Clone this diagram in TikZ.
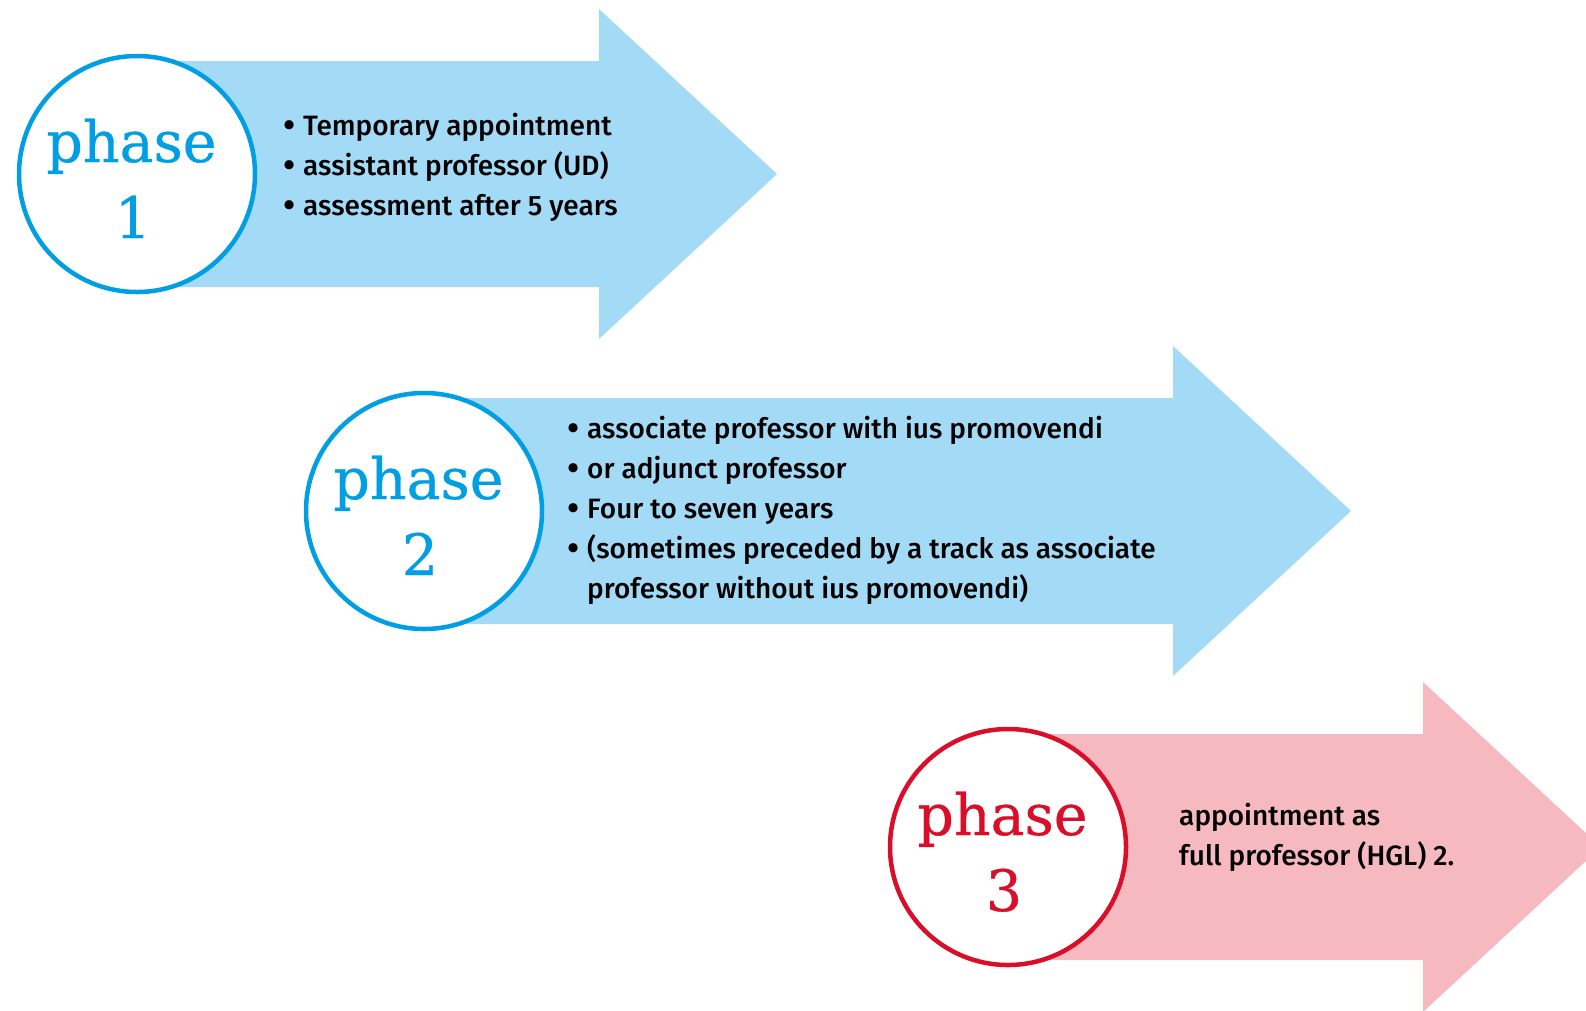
\documentclass[tikz,border=0pt]{standalone}
\usepackage{fontspec}
\setmainfont{Fira Sans}[UprightFont={* Medium}]
\newfontfamily\slabfont{DejaVu Serif}[FakeBold=0.6]
\definecolor{lightblue}{RGB}{163,218,246}
\definecolor{strongblue}{RGB}{0,158,226}
\definecolor{lightpink}{RGB}{246,185,192}
\definecolor{strongred}{RGB}{218,14,40}
\tikzset{
  phasecircle/.style={circle, fill=white, line width=4.5pt, minimum size=236pt, inner sep=0pt},
  phasetxt/.style={anchor=base, inner sep=0pt, font={\slabfont\fontsize{57}{57}\selectfont}},
  itemtxt/.style={anchor=base west, inner sep=0pt, font={\fontsize{28}{40}\selectfont}},
}
\newcommand{\bul}{\llap{\raisebox{-2.4pt}{\fontsize{36}{36}\selectfont\textbullet}\hspace{7.5pt}}}
\begin{document}
\begin{tikzpicture}[x=1pt,y=-1pt]
\useasboundingbox (0,0) rectangle (1586,1010);
\begin{scope}
\clip (0,0) rectangle (1586,1010);
% arrow 1
\fill[lightblue] (137,61) -- (599,61) -- (599,9) -- (777,174) -- (599,339) -- (599,287) -- (137,287) -- cycle;
% arrow 2
\fill[lightblue] (424,398) -- (1173,398) -- (1173,346) -- (1351,511) -- (1173,676) -- (1173,624) -- (424,624) -- cycle;
% arrow 3
\fill[lightpink] (1008,734) -- (1423,734) -- (1423,682) -- (1601,847) -- (1423,1012) -- (1423,960) -- (1008,960) -- cycle;
\end{scope}
% circles
\node[phasecircle, draw=strongblue] (c1) at (137,174) {};
\node[phasecircle, draw=strongblue] (c2) at (424,511) {};
\node[phasecircle, draw=strongred] (c3) at (1008,847) {};
% phase labels
\node[phasetxt, text=strongblue] (p1) at (131.5,162) {phase};
\node[phasetxt, text=strongblue] (n1) at (133,238) {1};
\node[phasetxt, text=strongblue] (p2) at (418.5,499) {phase};
\node[phasetxt, text=strongblue] (n2) at (420,575) {2};
\node[phasetxt, text=strongred] (p3) at (1002.5,835) {phase};
\node[phasetxt, text=strongred] (n3) at (1004,911) {3};
% phase 1 items
\node[itemtxt] (a1) at (303,135) {\bul Temporary appointment};
\node[itemtxt] (a2) at (303,175) {\bul assistant professor (UD)};
\node[itemtxt] (a3) at (303,215) {\bul assessment after 5 years};
% phase 2 items
\node[itemtxt] (b1) at (587,438) {\bul associate professor with ius promovendi};
\node[itemtxt] (b2) at (587,478) {\bul or adjunct professor};
\node[itemtxt] (b3) at (587,518) {\bul Four to seven years};
\node[itemtxt] (b4) at (587,558) {\bul (sometimes preceded by a track as associate};
\node[itemtxt] (b5) at (587,598) {professor without ius promovendi)};
% phase 3 items
\node[itemtxt] (d1) at (1179,825) {appointment as};
\node[itemtxt] (d2) at (1179,865) {full professor (HGL) 2.};
\end{tikzpicture}
\end{document}
